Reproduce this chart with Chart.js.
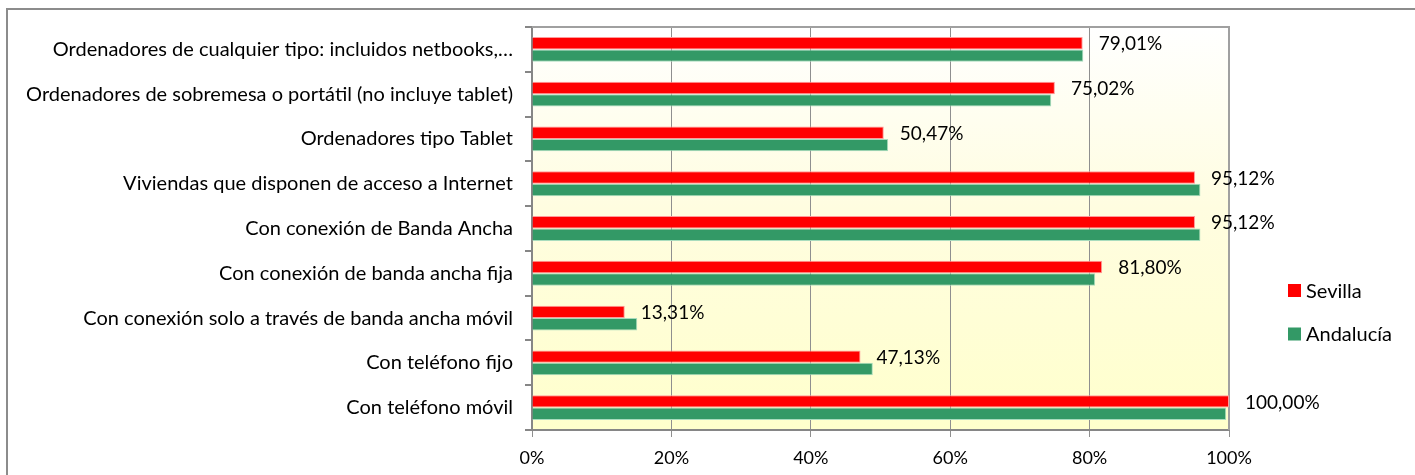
<!DOCTYPE html>
<html lang="es">
<head>
<meta charset="utf-8">
<title>Equipamiento TIC en viviendas</title>
<script src="https://cdn.jsdelivr.net/npm/chart.js@4.4.1/dist/chart.umd.min.js"></script>
<style>
  html, body { margin: 0; padding: 0; background: #fff; }
  canvas { display: block; }
</style>
</head>
<body>
<canvas id="grafico" width="1415" height="475"></canvas>
<script>
// Datos
const categorias = [
    'Ordenadores de cualquier tipo: incluidos netbooks,…',
    'Ordenadores de sobremesa o portátil (no incluye tablet)',
    'Ordenadores tipo Tablet',
    'Viviendas que disponen de acceso a Internet',
    'Con conexión de Banda Ancha',
    'Con conexión de banda ancha fija',
    'Con conexión solo a través de banda ancha móvil',
    'Con teléfono fijo',
    'Con teléfono móvil'
];
const sevilla = [79.01, 75.02, 50.47, 95.12, 95.12, 81.80, 13.31, 47.13, 100.00];
const andalucia = [79.1, 74.5, 51.1, 95.9, 95.9, 80.8, 15.1, 48.9, 99.6];
const ticksX = [0, 20, 40, 60, 80, 100];

const fuente = 'Lato, "Open Sans", sans-serif';
const tamTexto = 20;   // categorias y leyenda
const tamValor = 19;   // etiquetas de valor
const tamEje = 18;     // eje x

function formato(v) {
    return v.toFixed(2).replace('.', ',') + '%';
}

// marco exterior y fondo degradado del area del grafico
const fondo = {
    id: 'fondo',
    beforeDraw(chart) {
        const ctx = chart.ctx;
        const a = chart.chartArea;
        ctx.save();
        ctx.strokeStyle = '#8c8c8c';
        ctx.lineWidth = 2;
        ctx.strokeRect(7, 9, 1430, 490);
        const grad = ctx.createLinearGradient(0, a.top, 0, a.bottom);
        grad.addColorStop(0, '#ffffff');
        grad.addColorStop(0.45, '#fffde0');
        grad.addColorStop(1, '#ffffcc');
        ctx.fillStyle = grad;
        ctx.fillRect(a.left, a.top, a.right - a.left, a.bottom - a.top);
        ctx.restore();
    },
    beforeDatasetsDraw(chart) {
        const ctx = chart.ctx;
        const a = chart.chartArea;
        ctx.save();
        ctx.strokeStyle = '#a0a0a0';
        ctx.lineWidth = 2;
        ctx.beginPath();
        ctx.moveTo(a.left, a.top);
        ctx.lineTo(a.right, a.top);
        ctx.lineTo(a.right, a.bottom);
        ctx.stroke();
        ctx.restore();
    }
};

// etiquetas de valor de Sevilla
const etiquetas = {
    id: 'etiquetas',
    afterDatasetsDraw(chart) {
        const ctx = chart.ctx;
        const meta = chart.getDatasetMeta(0);
        ctx.save();
        ctx.font = tamValor + 'px ' + fuente;
        ctx.fillStyle = '#000';
        ctx.textAlign = 'left';
        ctx.textBaseline = 'middle';
        meta.data.forEach((bar, i) => {
            ctx.fillText(formato(sevilla[i]), bar.x + 16, bar.y + 1);
        });
        ctx.restore();
    }
};

// leyenda a la derecha
const leyenda = {
    id: 'leyenda',
    afterDraw(chart) {
        const ctx = chart.ctx;
        ctx.save();
        ctx.font = tamTexto + 'px ' + fuente;
        ctx.textAlign = 'left';
        ctx.textBaseline = 'middle';
        chart.data.datasets.forEach((ds, i) => {
            const y = 290.5 + i * 43.5;
            ctx.fillStyle = ds.backgroundColor;
            ctx.fillRect(1288, y - 6.5, 13, 13);
            ctx.fillStyle = '#000';
            ctx.fillText(ds.label, 1306, y + 1);
        });
        ctx.restore();
    }
};

new Chart(document.getElementById('grafico').getContext('2d'), {
    type: 'bar',
    data: {
        labels: categorias,
        datasets: [
            { label: 'Sevilla', data: sevilla, backgroundColor: '#ff0000', borderColor: '#ff9a9a', borderWidth: 1 },
            { label: 'Andalucía', data: andalucia, backgroundColor: '#339966', borderColor: '#a8dcbd', borderWidth: 1 }
        ]
    },
    options: {
        indexAxis: 'y',
        responsive: false,
        animation: false,
        layout: { padding: { top: 27, right: 186, bottom: 0, left: 0 } },
        datasets: { bar: { categoryPercentage: 0.555, barPercentage: 1.0 } },
        plugins: {
            legend: { display: false },
            tooltip: { enabled: false }
        },
        scales: {
            x: {
                min: 0,
                max: 100,
                afterBuildTicks: s => { s.ticks = ticksX.map(v => ({ value: v })); },
                afterFit: s => { s.height = 45; },
                grid: { color: '#8f8f8f', lineWidth: 1, tickLength: 7 },
                border: { color: '#868686', width: 2 },
                ticks: {
                    color: '#000',
                    padding: 10,
                    font: { family: fuente, size: tamEje },
                    callback: v => v + '%'
                }
            },
            y: {
                afterFit: s => { s.width = 532; },
                grid: { drawOnChartArea: false, color: '#868686', lineWidth: 2, tickLength: 7 },
                border: { color: '#868686', width: 2 },
                ticks: {
                    color: '#000',
                    padding: 12,
                    autoSkip: false,
                    font: { family: fuente, size: tamTexto }
                }
            }
        }
    },
    plugins: [fondo, etiquetas, leyenda]
});
</script>
</body>
</html>
